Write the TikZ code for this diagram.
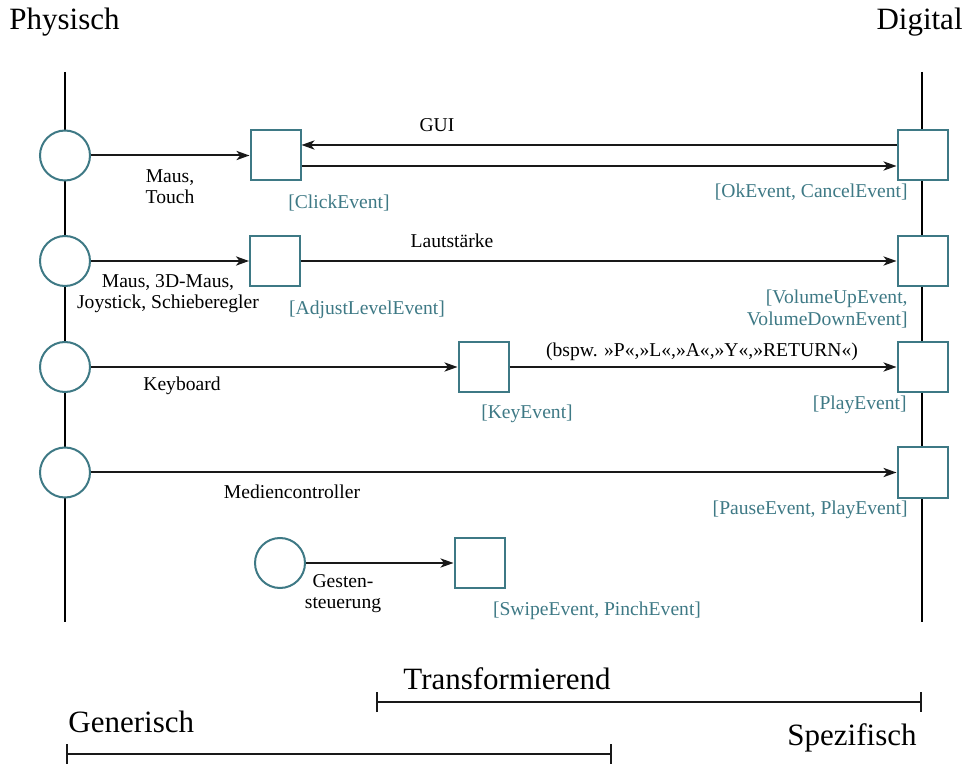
\documentclass[tikz,border=0pt]{standalone}
\usepackage{fontspec}
\setmainfont{Liberation Serif}
\usetikzlibrary{arrows.meta}
\definecolor{evcol}{RGB}{62,121,133}
\definecolor{linecol}{RGB}{25,25,25}
\begin{document}
\begin{tikzpicture}[x=0.5pt,y=-0.5pt,
  physical/.style={circle,draw=evcol,line width=1pt,fill=white,minimum size=25pt,inner sep=0pt},
  eventbox/.style={rectangle,draw=evcol,line width=1pt,fill=white,minimum size=25pt,inner sep=0pt},
  flow/.style={draw=linecol,line width=1pt,-{Stealth[length=6.5pt,width=4.6pt,inset=1.8pt]}},
  axis/.style={draw=black,line width=0.9pt},
  lbl/.style={font=\fontsize{9.8}{10.8}\selectfont,inner sep=0pt,align=center},
  evlbl/.style={font=\fontsize{9.8}{10.8}\selectfont,text=evcol,inner sep=0pt},
  title/.style={font=\fontsize{15.5}{18}\selectfont,inner sep=0pt},
  spanbar/.style={draw=linecol,line width=0.9pt,{Bar[width=10pt]}-{Bar[width=10pt]}}]

\path[use as bounding box] (0,0) rectangle (969,764);

% the two sides: physical devices and digital events
\coordinate (ltop) at (65,72);
\coordinate (lbot) at (65,622);
\coordinate (rtop) at (922,72);
\coordinate (rbot) at (922,622);
\draw[axis] (ltop) -- (lbot);
\draw[axis] (rtop) -- (rbot);

% input devices
\node[physical] (c1) at (65,155.5) {};
\node[physical] (c2) at (65,261) {};
\node[physical] (c3) at (65,367) {};
\node[physical] (c4) at (65,472.5) {};
\node[physical] (c5) at (280,563) {};

% intermediate events
\node[eventbox] (s1) at (275.5,155.5) {};
\node[eventbox] (s2) at (275,261) {};
\node[eventbox] (s3) at (483.5,367) {};
\node[eventbox] (s5) at (479.5,563) {};

% application events
\node[eventbox] (r1) at (922.5,155.5) {};
\node[eventbox] (r2) at (922.5,261) {};
\node[eventbox] (r3) at (922.5,367) {};
\node[eventbox] (r4) at (922.5,472.5) {};

% connections
\draw[flow] (c1) -- (s1);
\draw[flow] ([yshift=5.25pt]r1.west) -- ([yshift=5.25pt]s1.east);
\draw[flow] ([yshift=-5.25pt]s1.east) -- ([yshift=-5.25pt]r1.west);
\draw[flow] (c2) -- (s2);
\draw[flow] (s2) -- (r2);
\draw[flow] (c3) -- (s3);
\draw[flow] (s3) -- (r3);
\draw[flow] (c4) -- (r4);
\draw[flow] (c5) -- (s5);

% headings
\node[title,anchor=base west] (phys) at (9,30) {Physisch};
\node[title,anchor=base east] (digi) at (963,30) {Digital};

% labels
\node[lbl,anchor=base] (gui) at (437,132) {GUI};
\node[lbl,anchor=north] (l1) at (170,169) {Maus,\\Touch};
\node[evlbl,anchor=base] (e1) at (339,209) {[ClickEvent]};
\node[evlbl,anchor=base east] (f1) at (908,198) {[OkEvent, CancelEvent]};

\node[lbl,anchor=base] (vol) at (452,248) {Lautstärke};
\node[lbl,anchor=north] (l2) at (168,274) {Maus, 3D-Maus,\\Joystick, Schieberegler};
\node[evlbl,anchor=base] (e2) at (367,315) {[AdjustLevelEvent]};
\node[evlbl,anchor=north east,align=right] (f2) at (908,290) {[VolumeUpEvent,\\VolumeDownEvent]};

\node[lbl,anchor=base] (keys) at (702,357) {(bspw. »P«,»L«,»A«,»Y«,»RETURN«)};
\node[lbl,anchor=base] (kb) at (182,391) {Keyboard};
\node[evlbl,anchor=base] (e3) at (527,419) {[KeyEvent]};
\node[evlbl,anchor=base east] (f3) at (907,410) {[PlayEvent]};

\node[lbl,anchor=base] (med) at (292,498) {Mediencontroller};
\node[evlbl,anchor=base east] (f4) at (908,515) {[PauseEvent, PlayEvent]};

\node[lbl,anchor=north] (l5) at (343,574) {Gesten-\\steuerung};
\node[evlbl,anchor=base] (e5) at (597,615) {[SwipeEvent, PinchEvent]};

% spans along the generic-specific scale
\coordinate (ta) at (376,702);
\coordinate (tb) at (922,702);
\coordinate (ga) at (66,754);
\coordinate (gb) at (612,754);
\draw[spanbar] (ta) -- (tb);
\draw[spanbar] (ga) -- (gb);
\node[title,anchor=base west] (trans) at (403,689) {Transformierend};
\node[title,anchor=base west] (gen) at (68,732) {Generisch};
\node[title,anchor=base east] (spez) at (917,745) {Spezifisch};
\end{tikzpicture}
\end{document}
